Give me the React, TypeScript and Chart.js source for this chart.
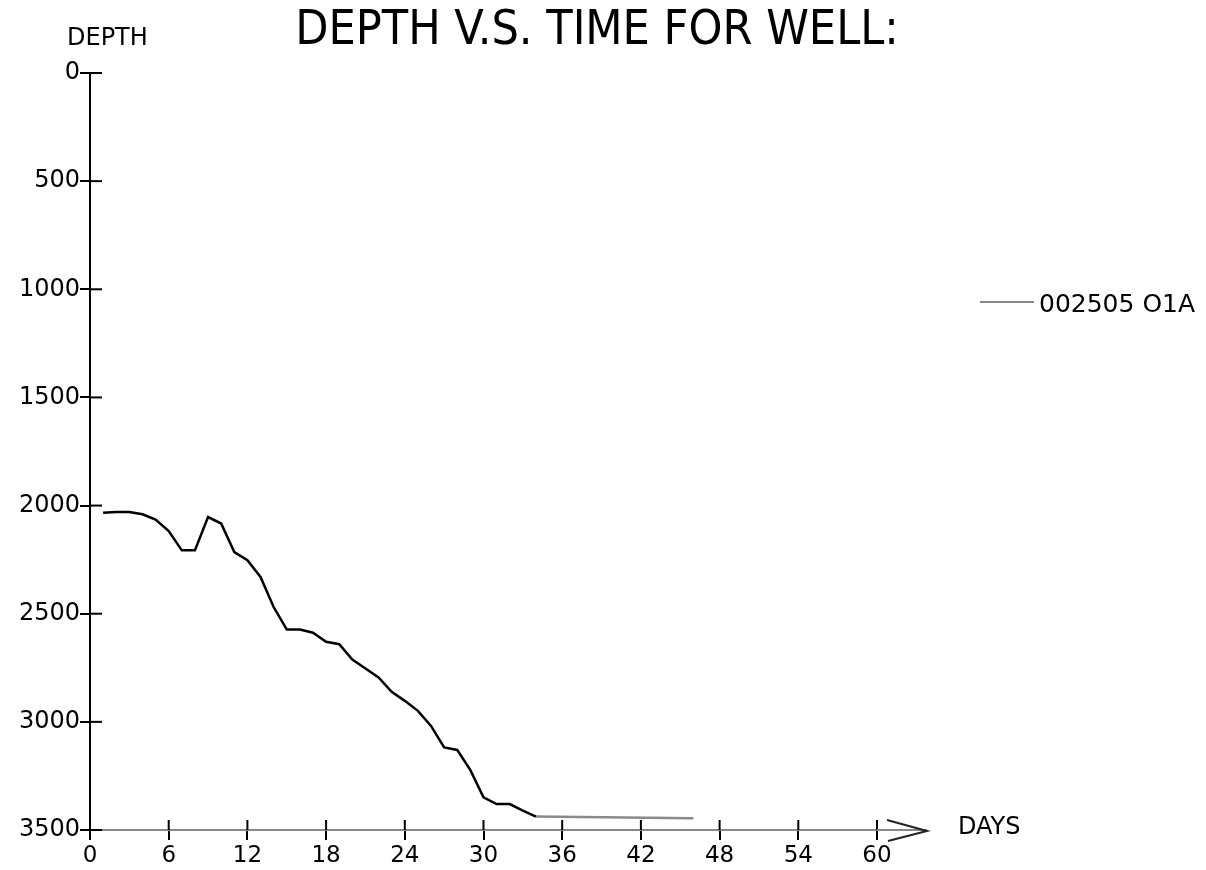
import React, { useEffect, useRef } from "react";
import { Chart, registerables } from "chart.js";

Chart.register(...registerables);

const days: number[] = [1, 2, 3, 4, 5, 6, 7, 8, 9, 10, 11, 12, 13, 14, 15, 16, 17, 18, 19, 20, 21, 22, 23, 24, 25, 26, 27, 28, 29, 30, 31, 32, 33, 34, 46];
const depths: number[] = [2033, 2030, 2030, 2040, 2065, 2118, 2207, 2207, 2053, 2083, 2215, 2253, 2330, 2469, 2573, 2573, 2588, 2630, 2641, 2712, 2753, 2795, 2861, 2903, 2949, 3019, 3118, 3130, 3223, 3349, 3380, 3380, 3410, 3438, 3446];
const seriesLabel = "002505 O1A";
const titleText = "DEPTH V.S. TIME FOR WELL:";
const yAxisLabel = "DEPTH";
const xAxisLabel = "DAYS";
const xMin = 0, xMax = 60, xStep = 6;
const yMin = 0, yMax = 3500, yStep = 500;

const FONT = "'DejaVu Sans', sans-serif";
const TITLE_FONT = "'DejaVu Sans Condensed', 'Liberation Sans Narrow', 'DejaVu Sans', sans-serif";

const decor = {
  id: "decor",
  afterDraw(chart: any) {
    const { ctx, chartArea, scales } = chart;
    const xs = scales.x, ys = scales.y;
    ctx.save();
    // title
    ctx.fillStyle = "#000";
    ctx.font = `48px ${TITLE_FONT}`;
    ctx.textAlign = "center";
    ctx.textBaseline = "middle";
    ctx.fillText(titleText, 589, 24);
    // inner halves of y ticks
    ctx.strokeStyle = "#000";
    ctx.lineWidth = 2;
    ys.ticks.forEach((t: any) => {
      const y = ys.getPixelForValue(t.value);
      ctx.beginPath();
      ctx.moveTo(chartArea.left, y);
      ctx.lineTo(chartArea.left + 12, y);
      ctx.stroke();
    });
    // inner halves of x ticks
    xs.ticks.forEach((t: any) => {
      if (t.value === xMin) return;
      const x = xs.getPixelForValue(t.value);
      ctx.beginPath();
      ctx.moveTo(x, chartArea.bottom - 10);
      ctx.lineTo(x, chartArea.bottom);
      ctx.stroke();
    });
    // axis extension + arrow
    const yb = chartArea.bottom;
    const tip = chartArea.right + 50;
    ctx.strokeStyle = "#888";
    ctx.lineWidth = 2;
    ctx.beginPath();
    ctx.moveTo(chartArea.right, yb);
    ctx.lineTo(tip, yb);
    ctx.stroke();
    ctx.strokeStyle = "#222";
    ctx.beginPath();
    ctx.moveTo(chartArea.right + 10, yb - 10);
    ctx.lineTo(tip, yb + 1);
    ctx.lineTo(chartArea.right + 11, yb + 11);
    ctx.stroke();
    // axis labels
    ctx.fillStyle = "#000";
    ctx.font = `24px ${FONT}`;
    ctx.textBaseline = "middle";
    ctx.textAlign = "left";
    ctx.fillText(xAxisLabel, 950, yb - 2);
    ctx.fillText(yAxisLabel, 59, 31);
    // legend
    const ds = chart.data.datasets[0];
    ctx.strokeStyle = "#888";
    ctx.lineWidth = 2;
    ctx.beginPath();
    ctx.moveTo(972, 294);
    ctx.lineTo(1026, 294);
    ctx.stroke();
    ctx.font = `25px ${FONT}`;
    ctx.fillText(ds.label, 1031, 297);
    ctx.restore();
  },
};

export default function App() {
  const ref = useRef<HTMLCanvasElement | null>(null);
  useEffect(() => {
    if (!ref.current) return;
    const last = days.length - 1;
    const chart = new Chart(ref.current, {
      type: "line",
      data: {
        datasets: [
          {
            label: seriesLabel,
            data: days.map((d, i) => ({ x: d, y: depths[i] })),
            borderColor: "#000",
            borderWidth: 2.5,
            pointRadius: 0,
            tension: 0,
            fill: false,
            segment: {
              borderColor: (c: any) => (c.p1DataIndex === last ? "#8a8a8a" : undefined),
            },
          },
        ],
      },
      plugins: [decor],
      options: {
        responsive: false,
        animation: false,
        layout: { padding: { left: 0, right: 321, top: 65, bottom: 0 } },
        plugins: {
          legend: { display: false },
          tooltip: { enabled: false },
          title: { display: false },
        },
        scales: {
          x: {
            type: "linear",
            min: xMin,
            max: xMax,
            afterFit: (s: any) => { s.height = 40; },
            ticks: { stepSize: xStep, color: "#000", font: { family: FONT, size: 23 }, padding: 2, maxRotation: 0 },
            grid: { drawOnChartArea: false, drawTicks: true, tickLength: 10, color: "#000", lineWidth: 2 },
            border: { display: true, color: "#888", width: 2 },
          },
          y: {
            type: "linear",
            reverse: true,
            min: yMin,
            max: yMax,
            afterFit: (s: any) => { s.width = 82; },
            ticks: {
              stepSize: yStep,
              color: "#000",
              font: { family: FONT, size: 24 },
              padding: 0,
              callback: (v: any) => String(v),
            },
            grid: { drawOnChartArea: false, drawTicks: true, tickLength: 10, color: "#000", lineWidth: 2 },
            border: { display: true, color: "#000", width: 2 },
          },
        },
      },
    });
    return () => chart.destroy();
  }, []);
  return <canvas ref={ref} width={1190} height={862} style={{ display: "block" }} />;
}
